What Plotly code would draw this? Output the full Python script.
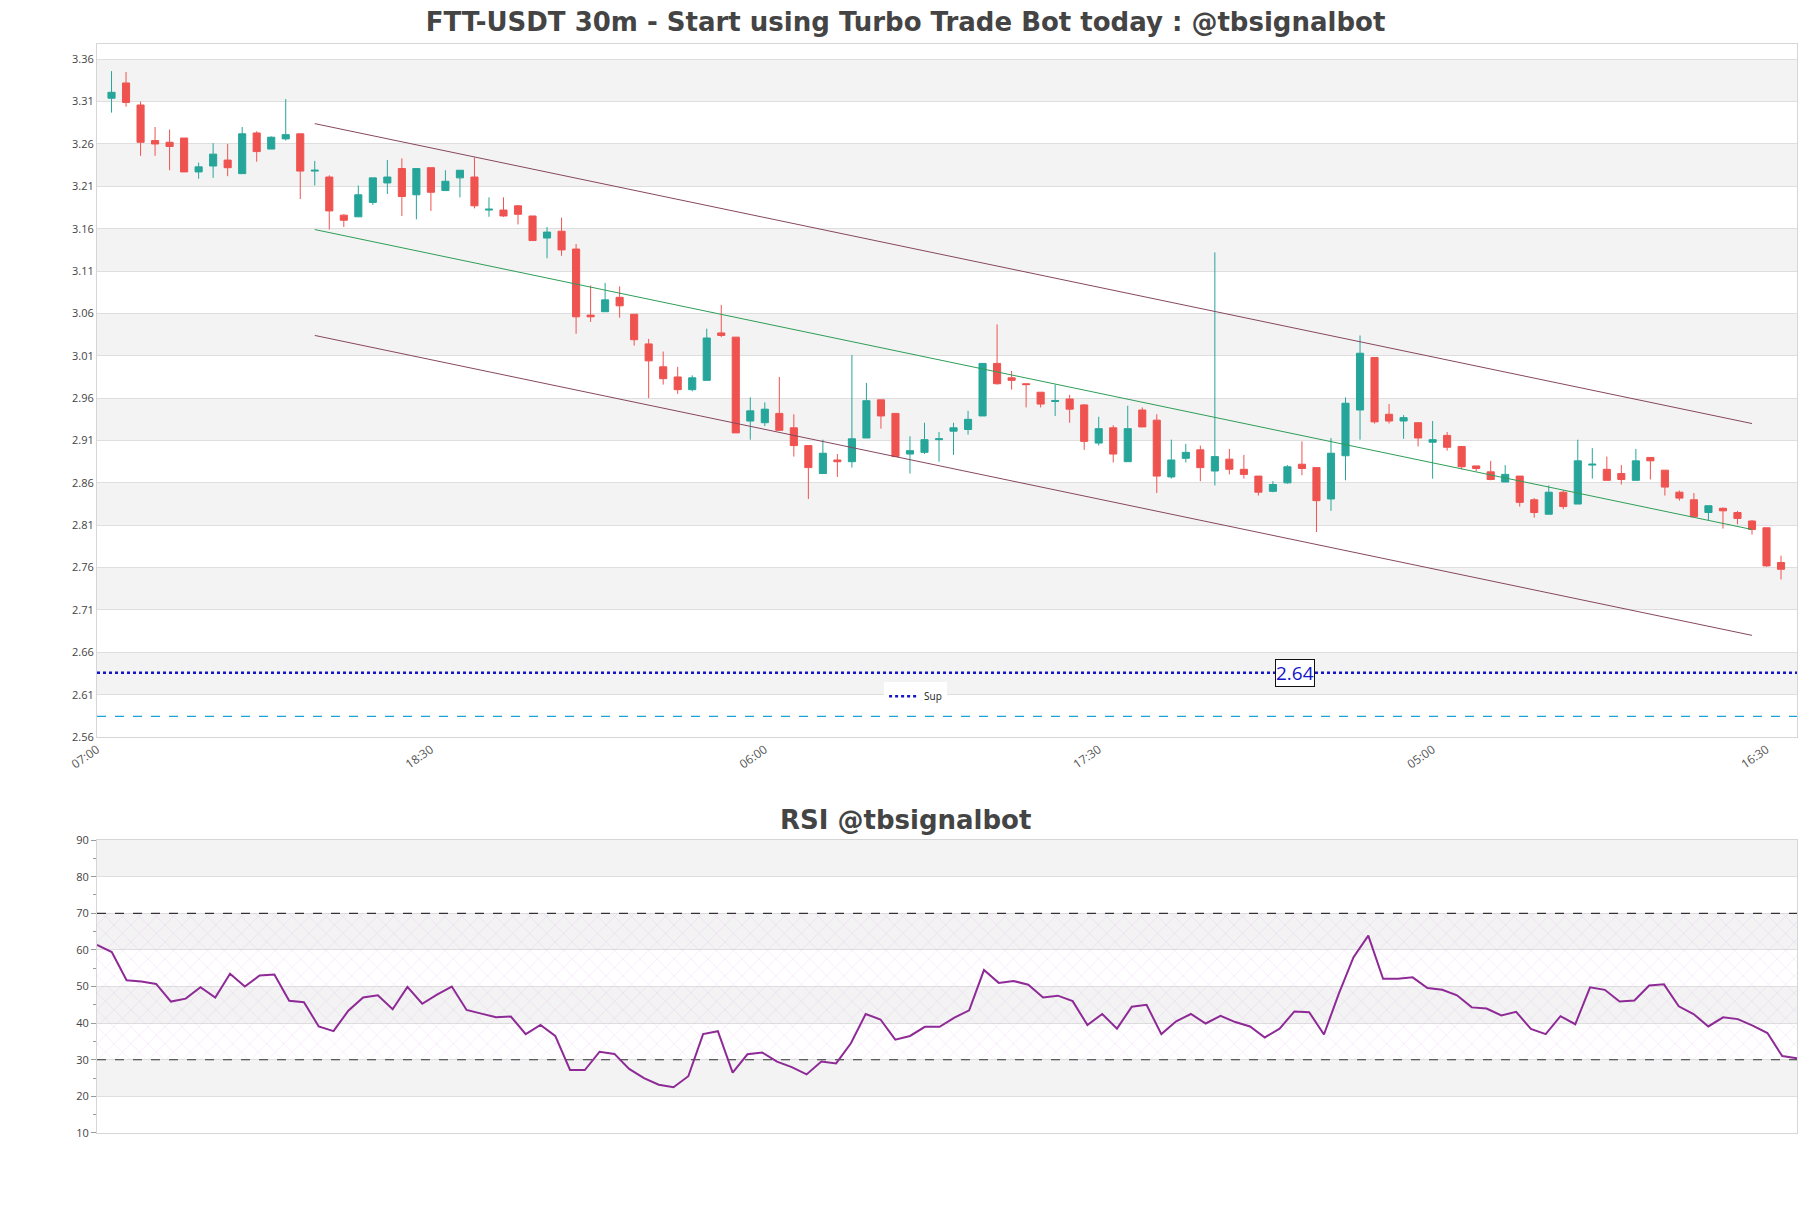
import pandas as pd
import plotly.graph_objects as go

# candle data, one entry per 30m bar (first bar 07:30)
opens = [3.314, 3.332, 3.306, 3.264, 3.262, 3.267, 3.227, 3.234, 3.241, 3.225,
         3.273, 3.254, 3.266, 3.272, 3.228, 3.221, 3.176, 3.174, 3.191, 3.214,
         3.231, 3.200, 3.232, 3.205, 3.220, 3.221, 3.182, 3.182, 3.187, 3.175,
         3.149, 3.157, 3.136, 3.058, 3.062, 3.079, 3.059, 3.024, 2.997, 2.985,
         2.970, 2.981, 3.037, 3.032, 2.933, 2.931, 2.942, 2.925, 2.904, 2.871,
         2.887, 2.885, 2.913, 2.958, 2.942, 2.894, 2.896, 2.911, 2.921, 2.923,
         2.939, 3.001, 2.984, 2.977, 2.967, 2.956, 2.959, 2.952, 2.907, 2.925,
         2.885, 2.946, 2.934, 2.867, 2.889, 2.899, 2.874, 2.888, 2.876, 2.868,
         2.850, 2.860, 2.882, 2.878, 2.841, 2.892, 2.946, 3.008, 2.941, 2.933,
         2.931, 2.908, 2.916, 2.903, 2.880, 2.873, 2.861, 2.868, 2.840, 2.823,
         2.849, 2.835, 2.881, 2.876, 2.871, 2.863, 2.890, 2.875, 2.849, 2.840,
         2.825, 2.830, 2.825, 2.815, 2.807, 2.766]
highs = [3.346, 3.345, 3.310, 3.280, 3.277, 3.267, 3.238, 3.261, 3.260, 3.280,
         3.275, 3.269, 3.313, 3.272, 3.240, 3.223, 3.177, 3.211, 3.220, 3.241,
         3.243, 3.231, 3.232, 3.229, 3.229, 3.244, 3.197, 3.197, 3.188, 3.175,
         3.162, 3.173, 3.142, 3.093, 3.096, 3.092, 3.059, 3.030, 3.015, 2.997,
         2.987, 3.042, 3.070, 3.032, 2.961, 2.955, 2.985, 2.941, 2.904, 2.911,
         2.894, 3.011, 2.978, 2.958, 2.942, 2.915, 2.931, 2.920, 2.931, 2.945,
         3.001, 3.047, 2.992, 2.977, 2.967, 2.976, 2.964, 2.953, 2.938, 2.928,
         2.951, 2.949, 2.941, 2.911, 2.906, 2.904, 3.132, 2.900, 2.893, 2.868,
         2.862, 2.881, 2.909, 2.878, 2.913, 2.961, 3.034, 3.008, 2.953, 2.940,
         2.931, 2.933, 2.920, 2.903, 2.880, 2.886, 2.881, 2.868, 2.842, 2.857,
         2.851, 2.911, 2.901, 2.891, 2.881, 2.900, 2.890, 2.875, 2.851, 2.848,
         2.833, 2.831, 2.827, 2.816, 2.807, 2.774]
lows = [3.297, 3.304, 3.246, 3.246, 3.229, 3.227, 3.219, 3.220, 3.222, 3.225,
        3.239, 3.254, 3.264, 3.195, 3.211, 3.159, 3.162, 3.174, 3.188, 3.201,
        3.175, 3.171, 3.181, 3.205, 3.197, 3.184, 3.174, 3.174, 3.165, 3.146,
        3.125, 3.128, 3.036, 3.050, 3.062, 3.055, 3.022, 2.960, 2.976, 2.965,
        2.968, 2.981, 3.032, 2.919, 2.911, 2.927, 2.922, 2.891, 2.841, 2.871,
        2.867, 2.878, 2.913, 2.924, 2.891, 2.871, 2.894, 2.885, 2.893, 2.917,
        2.939, 2.976, 2.970, 2.949, 2.949, 2.939, 2.931, 2.899, 2.904, 2.884,
        2.885, 2.926, 2.848, 2.865, 2.884, 2.862, 2.857, 2.870, 2.865, 2.845,
        2.849, 2.859, 2.869, 2.802, 2.827, 2.863, 2.911, 2.930, 2.930, 2.912,
        2.903, 2.865, 2.898, 2.876, 2.874, 2.863, 2.861, 2.832, 2.819, 2.823,
        2.829, 2.835, 2.865, 2.863, 2.858, 2.863, 2.864, 2.845, 2.839, 2.820,
        2.816, 2.806, 2.811, 2.799, 2.761, 2.746]
closes = [3.321, 3.309, 3.262, 3.260, 3.257, 3.227, 3.233, 3.248, 3.232, 3.272,
          3.251, 3.268, 3.271, 3.228, 3.229, 3.181, 3.170, 3.200, 3.220, 3.221,
          3.198, 3.231, 3.203, 3.216, 3.229, 3.187, 3.183, 3.175, 3.177, 3.146,
          3.156, 3.135, 3.056, 3.056, 3.076, 3.069, 3.029, 3.004, 2.983, 2.970,
          2.984, 3.031, 3.034, 2.919, 2.945, 2.947, 2.922, 2.904, 2.878, 2.895,
          2.885, 2.912, 2.957, 2.939, 2.891, 2.898, 2.911, 2.912, 2.925, 2.935,
          3.001, 2.977, 2.981, 2.976, 2.953, 2.957, 2.947, 2.909, 2.924, 2.894,
          2.924, 2.926, 2.868, 2.887, 2.896, 2.878, 2.891, 2.876, 2.870, 2.849,
          2.858, 2.879, 2.877, 2.839, 2.895, 2.954, 3.013, 2.932, 2.933, 2.937,
          2.913, 2.911, 2.902, 2.879, 2.877, 2.864, 2.870, 2.837, 2.825, 2.849,
          2.832, 2.886, 2.882, 2.863, 2.864, 2.886, 2.886, 2.855, 2.842, 2.820,
          2.833, 2.827, 2.818, 2.805, 2.762, 2.758]
rsi = [61.4, 59.4, 51.7, 51.4, 50.7, 45.9, 46.7, 49.8, 47.0, 53.5,
       50.0, 53.0, 53.3, 46.1, 45.7, 39.1, 37.8, 43.4, 47.0, 47.6,
       43.8, 49.9, 45.3, 47.8, 50.0, 43.6, 42.6, 41.6, 41.8, 37.0,
       39.5, 36.5, 27.2, 27.2, 32.2, 31.6, 27.5, 25.0, 23.2, 22.5,
       25.5, 37.0, 37.8, 26.5, 31.5, 32.0, 29.5, 28.0, 26.0, 29.5,
       29.0, 34.5, 42.5, 41.0, 35.5, 36.5, 39.0, 39.0, 41.5, 43.5,
       54.5, 51.0, 51.5, 50.5, 47.0, 47.5, 46.0, 39.5, 42.5, 38.5,
       44.5, 45.0, 37.0, 40.5, 42.5, 39.9, 42.0, 40.3, 39.1, 36.1,
       38.5, 43.2, 43.0, 36.9, 48.0, 58.0, 63.9, 52.1, 52.1, 52.5,
       49.6, 49.1, 47.6, 44.3, 44.0, 42.1, 43.1, 38.4, 37.0, 41.9,
       39.7, 49.8, 49.1, 45.9, 46.2, 50.3, 50.6, 44.6, 42.5, 39.1,
       41.6, 41.1, 39.3, 37.3, 31.0, 30.4]

start = pd.Timestamp("2023-01-10 07:00")
bar = pd.Timedelta(minutes=30)
times = [start + bar * (i + 1) for i in range(len(closes))]

# regression channel: from bar 15 to bar 114
channel_idx = [14, 113]
channel_upper = [3.284, 2.930]
channel_mid = [3.159, 2.805]
channel_lower = [3.034, 2.680]

sup_level = 2.636
sup_text = "2.64"
low_level = 2.5845

y_ticks = [round(2.56 + 0.05 * i, 2) for i in range(17)]
x_ticks = [start + bar * 23 * i for i in range(6)]
x_end = start + bar * 117.1
rsi_ticks = list(range(10, 100, 10))
rsi_low, rsi_high = 30, 70

GREEN = "#26a69a"
RED = "#ef5350"
BAND = "#f3f3f3"
GRID = "#dedede"
TXT = "#444444"

fig = go.Figure()

fig.add_trace(go.Candlestick(
    x=times, open=opens, high=highs, low=lows, close=closes,
    increasing=dict(line=dict(color=GREEN, width=1), fillcolor=GREEN),
    decreasing=dict(line=dict(color=RED, width=1), fillcolor=RED),
    showlegend=False, xaxis="x", yaxis="y"))

cx = [times[i] for i in channel_idx]
for ys, col in [(channel_upper, "#87475f"), (channel_mid, "#2e9e57"), (channel_lower, "#87475f")]:
    fig.add_trace(go.Scatter(x=cx, y=ys, mode="lines", line=dict(color=col, width=1),
                             showlegend=False, hoverinfo="skip", xaxis="x", yaxis="y"))

fig.add_trace(go.Scatter(x=[start, x_end], y=[sup_level, sup_level], mode="lines", name="Sup",
                         line=dict(color="#1414c8", width=2.5, dash="dot"), xaxis="x", yaxis="y"))
fig.add_trace(go.Scatter(x=[start, x_end], y=[low_level, low_level], mode="lines",
                         line=dict(color="#1aa3d4", width=1.2, dash="dash"), showlegend=False,
                         xaxis="x", yaxis="y"))

# RSI panel
fig.add_trace(go.Scatter(x=[times[0], times[-1]], y=[rsi_low, rsi_low], mode="lines",
                         line=dict(width=0), showlegend=False, hoverinfo="skip", xaxis="x2", yaxis="y2"))
fig.add_trace(go.Scatter(x=[times[0], times[-1]], y=[rsi_high, rsi_high], mode="lines",
                         line=dict(width=0), fill="tonexty", fillcolor="rgba(0,0,0,0)",
                         fillpattern=dict(shape="x", fgcolor="rgba(190,120,215,0.55)", size=12, solidity=0.08),
                         showlegend=False, hoverinfo="skip", xaxis="x2", yaxis="y2"))
for lvl in (rsi_low, rsi_high):
    fig.add_trace(go.Scatter(x=[times[0], times[-1]], y=[lvl, lvl], mode="lines",
                             line=dict(color="#333333", width=1.2, dash="dash"), showlegend=False,
                             hoverinfo="skip", xaxis="x2", yaxis="y2"))
fig.add_trace(go.Scatter(x=times, y=rsi, mode="lines", line=dict(color="#8e2a96", width=2),
                         showlegend=False, xaxis="x2", yaxis="y2"))

# alternating background bands
shapes = []
for lo in y_ticks[1:-1:2]:
    shapes.append(dict(type="rect", xref="x domain", yref="y", x0=0, x1=1, y0=lo, y1=lo + 0.05,
                       fillcolor=BAND, line=dict(width=0), layer="below"))
for lo in (20, 40, 60, 80):
    shapes.append(dict(type="rect", xref="x2 domain", yref="y2", x0=0, x1=1, y0=lo, y1=lo + 10,
                       fillcolor=BAND, line=dict(width=0), layer="below"))

axis_common = dict(showline=True, linecolor="#d6d6d6", linewidth=1, mirror=True,
                   gridcolor=GRID, zeroline=False)

fig.update_layout(
    width=1795, height=1192,
    margin=dict(l=89, r=6, t=36, b=67),
    paper_bgcolor="white", plot_bgcolor="white",
    font=dict(family="Open Sans", color=TXT),
    title=dict(text="<b>FTT-USDT 30m - Start using Turbo Trade Bot today : @tbsignalbot</b>",
               x=0.5, xanchor="center", y=0.988, yanchor="middle",
               font=dict(family="DejaVu Sans", size=26, color=TXT)),
    xaxis=dict(domain=[0, 1], anchor="y", range=[start, x_end], tickvals=x_ticks,
               ticktext=[t.strftime("%H:%M") for t in x_ticks], tickangle=-35,
               tickfont=dict(size=12, color="#555555"),
               showgrid=False, rangeslider=dict(visible=False), ticks="", **axis_common),
    yaxis=dict(domain=[0.3636, 1], anchor="x", range=[2.56, 3.378], tickvals=y_ticks,
               ticktext=[f"{v:.2f}" for v in y_ticks], ticks="",
               tickfont=dict(size=11, color=TXT), **axis_common),
    xaxis2=dict(domain=[0, 1], anchor="y2", range=[times[0], times[-1]], showticklabels=False,
                showgrid=False, ticks="", **axis_common),
    yaxis2=dict(domain=[0, 0.269], anchor="x2", range=[10, 90], tickvals=rsi_ticks,
                ticks="outside", ticklen=5, tickcolor="#999999",
                tickfont=dict(size=11, color=TXT),
                minor=dict(dtick=5, ticks="outside", ticklen=3, tickcolor="#999999", showgrid=False),
                **axis_common),
    shapes=shapes,
    showlegend=True,
    legend=dict(x=0.463, y=0.401, xanchor="left", yanchor="middle", bgcolor="white",
                font=dict(size=10, color="#222222"), itemwidth=30),
    annotations=[
        dict(x=times[0] + bar * 81.5, y=sup_level, xref="x", yref="y", text=sup_text, showarrow=False,
             font=dict(size=19, color="#1414c8"), bgcolor="white", bordercolor="#111111",
             borderwidth=1, borderpad=0),
        dict(x=0.4756, y=0.272, xref="paper", yref="paper", yanchor="bottom", showarrow=False,
             text="<b>RSI @tbsignalbot</b>", font=dict(family="DejaVu Sans", size=26, color=TXT)),
    ],
)

fig.write_html("out.html")
